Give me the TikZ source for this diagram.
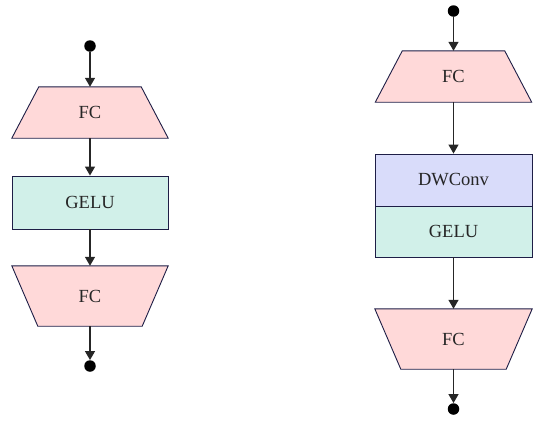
\documentclass[tikz,border=0pt]{standalone}
\usepackage{fontspec}
\setmainfont{Liberation Serif}
\usetikzlibrary{arrows.meta,calc,backgrounds}
\definecolor{fcpink}{HTML}{FFD9D9}
\definecolor{gelugreen}{HTML}{D1F0E9}
\definecolor{dwblue}{HTML}{D9DCFA}
\definecolor{edgeblue}{HTML}{1E1E46}
\definecolor{arrgray}{HTML}{262626}
\begin{document}
\begin{tikzpicture}[x=1pt,y=-1pt,
  blk/.style={rectangle,inner sep=0pt,minimum width=156pt,font=\fontsize{18.5}{20}\selectfont,text=black!85},
  boxed/.style={blk,draw=edgeblue,line width=0.9pt},
  dotn/.style={circle,fill=black,inner sep=0pt,minimum size=11.5pt},
  arr/.style={draw=arrgray,line width=1.3pt,-{Triangle[length=9pt,width=10pt]}},
  trap/.style={fill=fcpink,draw=edgeblue,line width=0.9pt,line join=miter}
]
\useasboundingbox (0,0) rectangle (537,421);
% ---- left ----
\node[dotn] (ld1) at (90,46) {};
\node[blk,minimum height=51pt] (lf1) at (90,112.5) {FC};
\node[boxed,fill=gelugreen,minimum height=53pt] (lg) at (90,202.5) {GELU};
\node[blk,minimum height=60pt] (lf2) at (90,296) {FC};
\node[dotn] (ld2) at (90,366) {};
% ---- right ----
\node[dotn] (rd1) at (453.5,11) {};
\node[blk,minimum height=51pt] (rf1) at (453.5,76.5) {FC};
\node[boxed,fill=dwblue,minimum width=157pt,minimum height=52pt] (rdw) at (453.5,180) {DWConv};
\node[boxed,fill=gelugreen,minimum width=157pt,minimum height=51pt] (rg) at (453.5,231.5) {GELU};
\node[blk,minimum width=157pt,minimum height=60pt] (rf2) at (453.5,339) {FC};
\node[dotn] (rd2) at (453.5,409) {};
\begin{scope}[on background layer]
\draw[trap] ($(lf1.north west)+(27,0)$) -- ($(lf1.north east)+(-27,0)$) -- (lf1.south east) -- (lf1.south west) -- cycle;
\draw[trap] (lf2.north west) -- (lf2.north east) -- ($(lf2.south east)+(-26,0)$) -- ($(lf2.south west)+(26,0)$) -- cycle;
\draw[trap] ($(rf1.north west)+(27,0)$) -- ($(rf1.north east)+(-27,0)$) -- (rf1.south east) -- (rf1.south west) -- cycle;
\draw[trap] (rf2.north west) -- (rf2.north east) -- ($(rf2.south east)+(-26,0)$) -- ($(rf2.south west)+(26,0)$) -- cycle;
\end{scope}
\draw[arr] (ld1) -- (lf1);
\draw[arr] (lf1) -- (lg);
\draw[arr] (lg) -- (lf2);
\draw[arr] (lf2) -- (ld2);
\draw[arr] (rd1) -- (rf1);
\draw[arr] (rf1) -- (rdw);
\draw[arr] (rg) -- (rf2);
\draw[arr] (rf2) -- (rd2);
\end{tikzpicture}
\end{document}
